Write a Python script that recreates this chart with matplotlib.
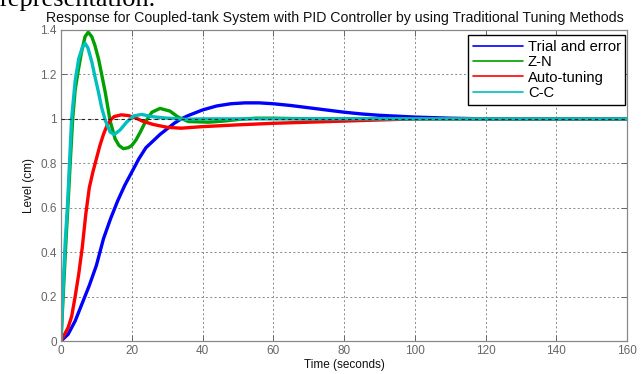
import matplotlib
matplotlib.use("Agg")
import matplotlib.pyplot as plt

# ---- data ----
t_trial = [0, 2, 4, 6, 8, 10, 12, 14, 16, 18, 20, 22, 24, 26, 28, 30, 32, 34, 36, 40, 44, 48,
           52, 56, 60, 65, 70, 75, 80, 85, 90, 95, 100, 110, 120, 160]
y_trial = [0, 0.03, 0.09, 0.17, 0.25, 0.34, 0.46, 0.55, 0.63, 0.70, 0.76, 0.82, 0.87, 0.90,
           0.93, 0.955, 0.98, 1.0, 1.015, 1.04, 1.058, 1.068, 1.072, 1.072, 1.068, 1.06, 1.05,
           1.04, 1.03, 1.022, 1.016, 1.012, 1.008, 1.003, 1.0, 1.0]

t_zn = [0, 0.6, 1.4, 2.0, 2.6, 3.3, 4.0, 4.9, 5.8, 6.8, 7.7, 8.7, 9.6, 10.6, 11.5, 12.5, 13.9,
        15.3, 16.4, 17.6, 19.0, 20.0, 21.2, 22.4, 23.8, 25.7, 28.0, 30.8, 33.2, 36.0, 41.7,
        46, 50, 55, 60, 70, 160]
y_zn = [0, 0.2, 0.45, 0.62, 0.8, 1.0, 1.13, 1.22, 1.3, 1.37, 1.39, 1.37, 1.33, 1.27, 1.2, 1.12,
        0.99, 0.91, 0.88, 0.866, 0.87, 0.88, 0.905, 0.94, 0.985, 1.03, 1.047, 1.035, 1.007,
        0.988, 0.985, 0.99, 0.997, 1.003, 1.003, 1.0, 1.0]

t_auto = [0, 1, 2, 3, 4, 5, 6, 7, 8, 9, 10, 11, 12, 13, 14, 15, 17, 19, 21, 23, 26, 30, 34,
          40, 50, 60, 70, 80, 90, 100, 160]
y_auto = [0, 0.03, 0.06, 0.11, 0.2, 0.3, 0.42, 0.57, 0.69, 0.76, 0.82, 0.88, 0.93, 0.97, 0.995,
          1.01, 1.018, 1.015, 1.005, 0.99, 0.975, 0.962, 0.958, 0.965, 0.973, 0.98, 0.985,
          0.99, 0.995, 1.0, 1.0]

t_cc = [0, 0.5, 1.2, 1.8, 2.4, 3.0, 4.0, 5.0, 6.0, 6.8, 7.6, 8.7, 9.6, 10.6, 11.5, 12.5, 13.9,
        15.1, 16.7, 18.6, 20.5, 22.8, 25.7, 29.4, 35, 40, 160]
y_cc = [0, 0.2, 0.45, 0.6, 0.8, 1.0, 1.17, 1.27, 1.32, 1.34, 1.32, 1.257, 1.19, 1.12, 1.05, 0.994,
        0.94, 0.93, 0.95, 0.986, 1.013, 1.02, 1.01, 1.004, 0.998, 1.0, 1.0]

labels = ["Trial and error", "Z-N", "Auto-tuning", "C-C"]
colors = ["#0000ff", "#00a000", "#ff0000", "#00bfbf"]
xticks = [0, 20, 40, 60, 80, 100, 120, 140, 160]
yticks = [0, 0.2, 0.4, 0.6, 0.8, 1, 1.2, 1.4]
ytick_labels = ["0", "0.2", "0.4", "0.6", "0.8", "1", "1.2", "1.4"]

plt.rcParams['font.family'] = ['Liberation Sans', 'DejaVu Sans']

fig = plt.figure(figsize=(6.44, 3.74), dpi=100)
ax = fig.add_axes([61/644, 1 - 341/374, (627-61)/644, (341-30)/374])

series = [(t_trial, y_trial), (t_zn, y_zn), (t_auto, y_auto), (t_cc, y_cc)]
for (tx, ty), lab, col in zip(series, labels, colors):
    ax.plot(tx, ty, color=col, lw=2.4, label=lab, solid_capstyle='round', zorder=2)

ax.axhline(1.0, color='#222222', lw=0.8, ls=(0, (3, 3)), zorder=3)

ax.set_xlim(0, 160)
ax.set_ylim(0, 1.4)
ax.set_xticks(xticks)
ax.set_yticks(yticks)
ax.set_yticklabels(ytick_labels)
ax.grid(True, color='#888888', ls=(0, (2, 2.5)), lw=0.7)
ax.set_axisbelow(True)
ax.tick_params(direction='in', length=4, width=0.7, colors='#666666', labelsize=8.5,
               top=True, right=True, pad=3)
for sp in ax.spines.values():
    sp.set_color('#888888')
    sp.set_linewidth(0.9)

fig.text(335/644, 1 - 18/374,
         "Response for Coupled-tank System with PID Controller by using Traditional Tuning Methods",
         fontsize=10.2, color='#111111', ha='center', va='center')
ax.set_xlabel("Time (seconds)", fontsize=8.5, color='#111111', labelpad=1)
ax.set_ylabel("Level (cm)", fontsize=8.5, color='#111111', labelpad=4)

leg = ax.legend(loc='upper right', bbox_to_anchor=(0.997, 0.983), fontsize=10.6,
                frameon=True, fancybox=False, framealpha=1, edgecolor='black',
                handlelength=3.4, handletextpad=0.35, labelspacing=0.1,
                borderpad=0.3, borderaxespad=0)
leg.get_frame().set_linewidth(1.0)
for line in leg.get_lines():
    line.set_linewidth(1.2)

fig.text(0.0, 1 - 6/374, "representation.", family='Liberation Serif', fontsize=19,
         va='baseline', ha='left', color='black')

fig.savefig("out.png", dpi=100)
